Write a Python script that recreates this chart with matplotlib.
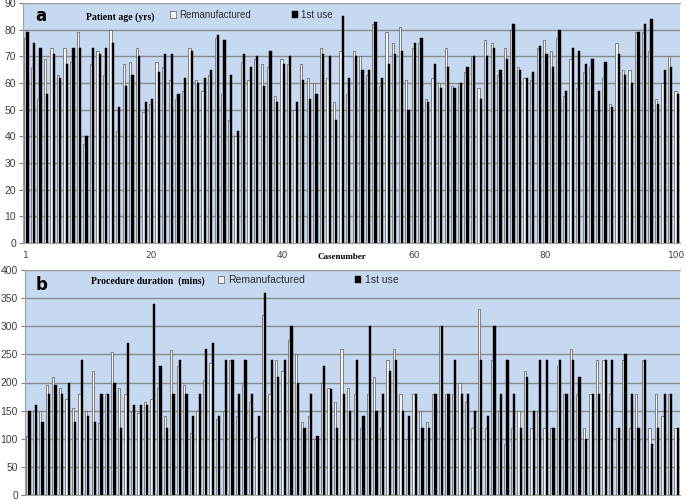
import numpy as np
import matplotlib.pyplot as plt

cases = np.arange(1, 101)

age_reman = [77, 66, 54, 69, 73, 63, 73, 68, 79, 37, 67, 72, 63, 80, 42, 67, 68, 73, 49, 52,
             68, 66, 61, 54, 57, 73, 61, 57, 63, 77, 56, 46, 40, 68, 61, 69, 67, 66, 55, 69,
             67, 50, 67, 62, 60, 73, 62, 53, 72, 56, 72, 70, 63, 82, 59, 79, 75, 81, 61, 73,
             75, 54, 62, 60, 73, 59, 60, 64, 70, 58, 76, 75, 63, 73, 80, 66, 62, 61, 73, 76,
             72, 77, 55, 69, 58, 64, 66, 50, 62, 52, 75, 65, 65, 79, 79, 72, 54, 60, 70, 57]
age_first = [79, 75, 73, 56, 71, 62, 67, 73, 73, 40, 73, 71, 73, 75, 51, 59, 63, 70, 53, 54,
             64, 71, 71, 56, 62, 72, 60, 62, 65, 78, 76, 63, 42, 71, 66, 70, 59, 72, 53, 67,
             70, 53, 61, 54, 56, 71, 70, 46, 85, 62, 70, 65, 65, 83, 62, 67, 71, 72, 50, 75,
             77, 53, 67, 58, 66, 58, 60, 66, 70, 54, 70, 73, 65, 69, 82, 65, 62, 64, 74, 71,
             66, 80, 57, 73, 72, 67, 69, 57, 68, 51, 71, 63, 60, 79, 82, 84, 52, 65, 66, 56]

dur_reman = [105, 150, 150, 196, 210, 190, 170, 155, 180, 150, 220, 128, 180, 255, 190, 180, 150, 145, 165, 170,
             190, 140, 258, 230, 196, 110, 150, 205, 235, 135, 150, 240, 140, 196, 165, 103, 320, 180, 240, 220,
             276, 250, 130, 140, 100, 200, 190, 165, 260, 190, 180, 120, 180, 210, 120, 240, 260, 180, 100, 180,
             150, 130, 180, 300, 180, 180, 200, 165, 120, 330, 120, 240, 150, 90, 120, 150, 220, 120, 150, 120,
             120, 230, 180, 260, 180, 120, 180, 240, 240, 180, 120, 240, 120, 180, 240, 120, 180, 140, 180, 120]
dur_first = [150, 160, 130, 180, 195, 180, 200, 130, 240, 140, 130, 180, 180, 200, 120, 270, 160, 160, 160, 340,
             230, 120, 180, 240, 180, 140, 180, 260, 270, 140, 240, 240, 180, 240, 180, 140, 360, 240, 210, 240,
             300, 200, 120, 180, 105, 230, 188, 120, 180, 150, 240, 140, 300, 150, 180, 220, 240, 150, 140, 180,
             120, 120, 180, 300, 180, 240, 180, 180, 150, 240, 140, 300, 180, 240, 180, 120, 210, 150, 240, 240,
             120, 240, 180, 240, 210, 100, 180, 180, 240, 240, 120, 250, 180, 120, 240, 90, 120, 180, 180, 120]

x_labels = [1, 20, 40, 60, 80, 100]

bg = "#c6d9f0"
W = 685
H = 500


def px(x, y):
    return x / W, 1 - y / H


def draw_panel(ax, reman, first, ymax, ystep):
    ax.set_facecolor(bg)
    ax.bar(cases - 0.17, reman, width=0.34, color="#f4f4f4", edgecolor="#5a5a5a",
           linewidth=0.5, label="Remanufactured", zorder=3)
    ax.bar(cases + 0.17, first, width=0.34, color="black", edgecolor="black",
           linewidth=0.3, label="1st use", zorder=3)
    ax.set_xlim(0.5, 100.5)
    ax.set_ylim(0, ymax)
    ax.set_yticks(np.arange(0, ymax + 1, ystep))
    ax.yaxis.grid(True, color="#8a8a8a", linewidth=1.0, zorder=0)
    for s in ["top", "right", "left", "bottom"]:
        ax.spines[s].set_color("#a0a0a0")
    ax.spines["right"].set_visible(False)
    ax.tick_params(axis="y", labelcolor="#404040", color="#808080",
                   length=3, pad=2)
    for t in ax.get_yticklabels():
        t.set_family("Liberation Sans")
        t.set_fontsize(7.5)
    ax.tick_params(axis="x", length=0)


fig = plt.figure(figsize=(6.85, 5.0), dpi=100)

ax1 = fig.add_axes([23 / W, 1 - 243 / H, 657 / W, 240 / H])
draw_panel(ax1, age_reman, age_first, 90, 10)
ax1.set_xticks(x_labels)
ax1.set_xticklabels([str(v) for v in x_labels], fontsize=6.5, color="#404040")
ax1.tick_params(axis="x", pad=6)

ax2 = fig.add_axes([25 / W, 1 - 495 / H, 655 / W, 225 / H])
draw_panel(ax2, dur_reman, dur_first, 400, 50)
ax2.set_xticks([])

# panel letters and titles
fig.text(*px(35, 16), "a", fontsize=12, fontweight="bold", va="center")
fig.text(*px(86, 17), "Patient age (yrs)", fontsize=7, fontweight="bold",
         family="Liberation Serif", va="center")
fig.text(*px(36, 285), "b", fontsize=12, fontweight="bold", va="center")
fig.text(*px(91, 281), "Procedure duration  (mins)", fontsize=7, fontweight="bold",
         family="Liberation Serif", va="center")
fig.text(*px(318, 257), "Casenumber", fontsize=6.5, fontweight="bold",
         family="Liberation Serif", va="center")

# legends
leg_kw = dict(loc="center left", ncol=2, frameon=False, handlelength=0.6,
              handleheight=0.6, handletextpad=0.35, borderaxespad=0)
leg1 = ax1.legend(bbox_to_anchor=px(166, 15),
                  bbox_transform=fig.transFigure, columnspacing=4.2,
                  prop={"family": "Liberation Sans", "size": 7}, **leg_kw)
leg2 = ax2.legend(bbox_to_anchor=px(214, 280),
                  bbox_transform=fig.transFigure, columnspacing=4.8,
                  prop={"family": "Liberation Sans", "size": 7.5}, **leg_kw)
for leg in (leg1, leg2):
    for t in leg.get_texts():
        t.set_color("#303030")

fig.savefig("out.png", dpi=100)
